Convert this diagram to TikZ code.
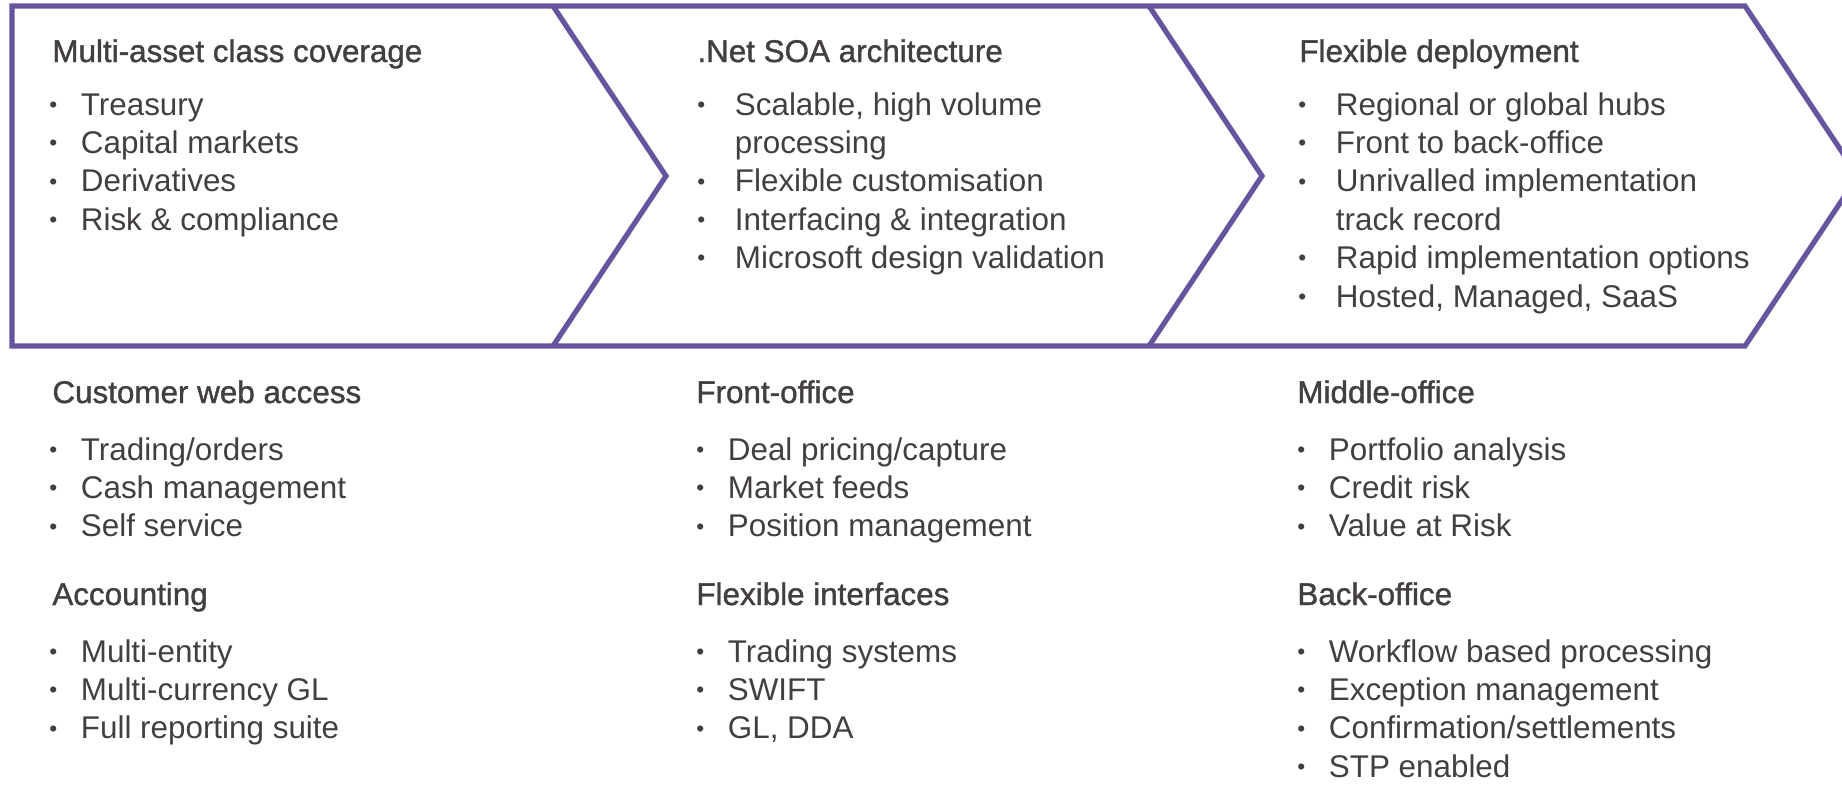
\documentclass[tikz,border=0pt]{standalone}
\usepackage{fontspec}
\setmainfont{Liberation Sans}
\newfontfamily\headfont{Liberation Sans}[FakeBold=1.2]
\usepackage{xcolor}
\usepackage{graphicx}
\definecolor{frame}{RGB}{103,84,158}
\definecolor{ink}{RGB}{66,63,62}
\newcommand{\dotmark}{\raisebox{1.4pt}{\scalebox{0.72}{\textbullet}}}
\newcommand{\bul}{\makebox[15.75pt][l]{\dotmark}}
\newcommand{\bulw}{\makebox[18.75pt][l]{\dotmark}}

\begin{document}
\begin{tikzpicture}[
  x=0.5pt, y=-0.5pt,
  every node/.style={anchor=base west, inner sep=0pt, text=ink,
    font=\fontsize{15.7}{19}\selectfont},
  head/.style={font=\headfont\fontsize{15.7}{19}\selectfont},
  frameline/.style={draw=frame, line width=2.6pt, line join=miter},
]
\useasboundingbox (0,0) rectangle (1842,811);

% chevron band
\begin{scope}
\clip (0,0) rectangle (1842,811);
\draw[frameline] (12,6) -- (1745,6) -- (1858,176) -- (1745,346) -- (12,346) -- cycle;
\draw[frameline] (553,6) -- (666,176) -- (553,346);
\draw[frameline] (1149,6) -- (1262,176) -- (1149,346);
\end{scope}

% top panels
\node[head] (multi) at (52,62) {Multi-asset class coverage};
\node (treas) at (49,115) {\bul Treasury};
\node (capm) at (49,153.4) {\bul Capital markets};
\node (deriv) at (49,191.8) {\bul Derivatives};
\node (risk) at (49,230.2) {\bul Risk \& compliance};

\node[head] (soa) at (697,62) {.Net SOA architecture};
\node (scal) at (697,115) {\bulw Scalable, high volume};
\node (proc) at (734.5,153.4) {processing};
\node (custom) at (697,191.8) {\bulw Flexible customisation};
\node (integ) at (697,230.2) {\bulw Interfacing \& integration};
\node (msft) at (697,268.6) {\bulw Microsoft design validation};

\node[head] (deploy) at (1299,62) {Flexible deployment};
\node (hubs) at (1298,115) {\bulw Regional or global hubs};
\node (ftob) at (1298,153.4) {\bulw Front to back-office};
\node (unriv) at (1298,191.8) {\bulw Unrivalled implementation};
\node (track) at (1335.5,230.2) {track record};
\node (rapid) at (1298,268.6) {\bulw Rapid implementation options};
\node (hosted) at (1298,307) {\bulw Hosted, Managed, SaaS};

% lower columns
\node[head] (web) at (52,403) {Customer web access};
\node (trade) at (49,460) {\bul Trading/orders};
\node (cash) at (49,498.4) {\bul Cash management};
\node (self) at (49,536.8) {\bul Self service};
\node[head] (acct) at (52,605) {Accounting};
\node (entity) at (49,662) {\bul Multi-entity};
\node (ccy) at (49,700.4) {\bul Multi-currency GL};
\node (report) at (49,738.8) {\bul Full reporting suite};

\node[head] (front) at (696,403) {Front-office};
\node (deal) at (696,460) {\bul Deal pricing/capture};
\node (feeds) at (696,498.4) {\bul Market feeds};
\node (posn) at (696,536.8) {\bul Position management};
\node[head] (flexi) at (696,605) {Flexible interfaces};
\node (tsys) at (696,662) {\bul Trading systems};
\node (swift) at (696,700.4) {\bul SWIFT};
\node (gldda) at (696,738.8) {\bul GL, DDA};

\node[head] (middle) at (1297,403) {Middle-office};
\node (port) at (1297,460) {\bul Portfolio analysis};
\node (credit) at (1297,498.4) {\bul Credit risk};
\node (var) at (1297,536.8) {\bul Value at Risk};
\node[head] (back) at (1297,605) {Back-office};
\node (wflow) at (1297,662) {\bul Workflow based processing};
\node (excp) at (1297,700.4) {\bul Exception management};
\node (confs) at (1297,738.8) {\bul Confirmation/settlements};
\node (stp) at (1297,777.2) {\bul STP enabled};

\end{tikzpicture}
\end{document}
